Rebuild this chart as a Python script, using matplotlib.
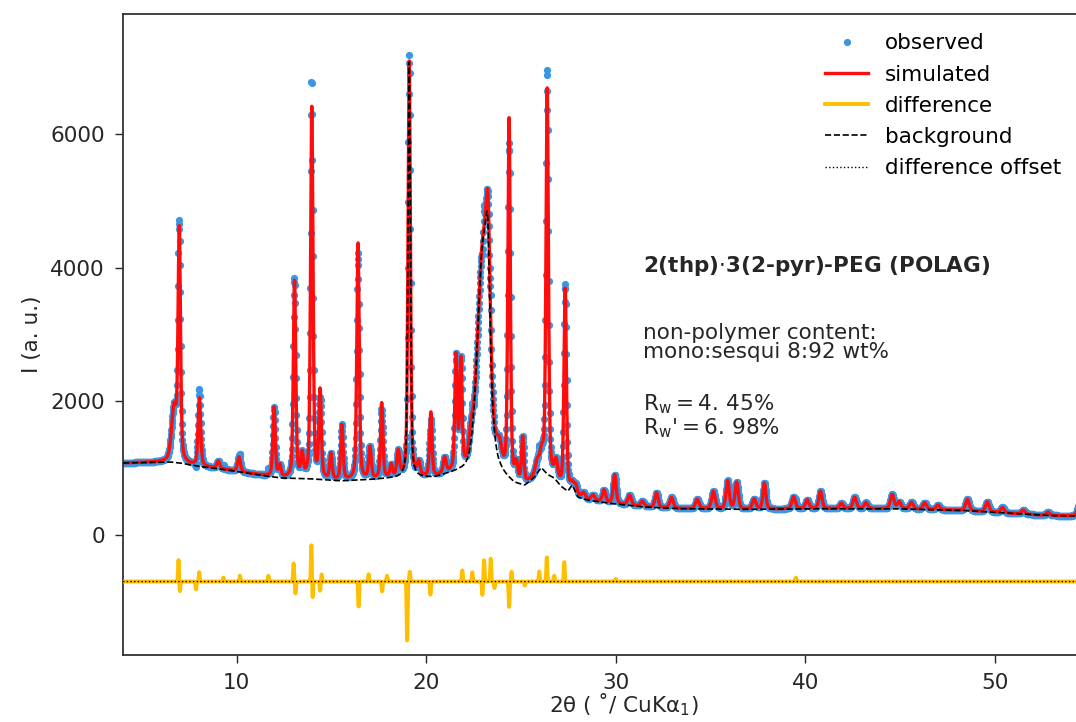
import numpy as np
import matplotlib
matplotlib.use('Agg')
import matplotlib.pyplot as plt

# background knots (2theta, counts)
bkg_x = [4.0, 5.0, 6.5, 7.0, 8.0, 9.3, 11.0, 12.3, 13.7, 15.5, 17.2, 18.1, 19.5, 20.4, 21.1, 21.7,
         22.5, 23.5, 23.9, 24.65, 25.2, 25.7, 26.06, 26.4, 26.75, 27.1, 27.47, 27.7, 28.0, 28.5,
         29.8, 31.5, 33.3, 36.8, 40.3, 44.8, 48.3, 52.7, 54.6]
bkg_y = [1075, 1080, 1090, 1075, 1025, 978, 903, 850, 839, 805, 825, 840, 845, 840, 880, 900,
         880, 870, 860, 730, 710, 839, 989, 889, 839, 719, 644, 739, 560, 514,
         464, 414, 390, 380, 390, 390, 365, 290, 280]

# PEG (polymer) reflections, part of the background
peg_pos = [19.10, 23.00, 23.25]
peg_height = [6250, 3400, 1500]
peg_fwhm = [0.15, 0.70, 0.25]

# crystalline reflections: position, height above background, fwhm
peak_pos = [6.70, 6.97, 8.03, 9.03, 10.12, 11.97, 12.27, 13.05, 13.45, 13.96, 14.40, 14.97,
            15.55, 16.40, 17.03, 17.65, 18.15, 18.52, 19.60, 20.24, 20.97, 21.57, 21.83, 22.35,
            23.30, 23.85, 24.37, 24.75, 25.09, 25.85, 26.10, 26.38, 26.85, 27.33, 27.90,
            28.30, 28.80, 29.38, 29.94, 30.73, 31.40, 32.15, 32.94, 34.30, 35.15, 35.90, 36.38,
            37.30, 37.84, 39.38, 40.10, 40.80, 41.90, 42.60, 43.20, 44.58, 44.95, 45.60, 46.30,
            47.00, 48.55, 49.60, 50.40, 51.50, 52.80, 54.45]
peak_height = [800, 3400, 1020, 110, 220, 1040, 170, 2950, 330, 5550, 1300, 380,
               820, 3550, 470, 1120, 180, 380, 200, 960, 230, 1700, 1600, 300,
               450, 300, 5350, 250, 680, 150, 200, 5750, 250, 3000, 100,
               80, 80, 180, 430, 150, 80, 220, 160, 140, 260, 420, 400,
               150, 390, 180, 130, 260, 80, 170, 90, 210, 100, 100, 100,
               70, 170, 150, 80, 60, 50, 180]
peak_fwhm = [0.32, 0.15, 0.16, 0.18, 0.18, 0.15, 0.15, 0.15, 0.15, 0.15, 0.15, 0.15,
             0.15, 0.15, 0.16, 0.15, 0.15, 0.17, 0.18, 0.15, 0.18, 0.15, 0.15, 0.22,
             0.25, 0.30, 0.15, 0.18, 0.15, 0.22, 0.22, 0.15, 0.18, 0.15, 0.22,
             0.22, 0.22, 0.20, 0.18, 0.22, 0.22, 0.20, 0.22, 0.22, 0.22, 0.20, 0.20,
             0.22, 0.18, 0.22, 0.22, 0.20, 0.22, 0.22, 0.22, 0.22, 0.22, 0.22, 0.22,
             0.22, 0.22, 0.22, 0.22, 0.22, 0.22, 0.22]

# residual (observed - simulated) features
resid_pos = [6.93, 7.00, 7.85, 8.02, 9.30, 10.17, 11.67, 13.00, 13.10, 13.94, 14.00, 14.40, 14.48,
             16.43, 16.96, 17.67, 17.93, 18.99, 19.13, 20.22, 21.90, 22.43, 22.96, 23.05, 23.40,
             23.60, 24.37, 24.50, 25.20, 25.96, 26.36, 26.75, 27.28, 30.00, 39.50]
resid_amp = [330, -150, -120, 140, 60, 90, 90, 270, -180, 580, -260, -140, 110,
             -380, 110, -150, 90, -900, 150, -200, 170, 140, -200, 320, 350,
             -100, -380, 150, -60, 150, 370, 90, 290, 40, 60]

diff_offset = -700
step = 0.015


def pvoigt(x, c, h, w, eta=0.4):
    u = (x - c) / w
    return h * (eta / (1 + 4 * u**2) + (1 - eta) * np.exp(-4 * np.log(2) * u**2))


tth = np.arange(4.0, 54.6, step)
background = np.interp(tth, bkg_x, bkg_y)
for c, h, w in zip(peg_pos, peg_height, peg_fwhm):
    background += pvoigt(tth, c, h, w)

simulated = background.copy()
for c, h, w in zip(peak_pos, peak_height, peak_fwhm):
    simulated += pvoigt(tth, c, h, w)

resid = np.zeros_like(tth)
for c, a in zip(resid_pos, resid_amp):
    resid += a * np.exp(-4 * np.log(2) * ((tth - c) / 0.06)**2)

observed = simulated + resid
difference = resid + diff_offset

plt.rcParams['font.family'] = 'DejaVu Sans'
plt.rcParams['mathtext.fontset'] = 'dejavusans'
txt = '#262626'
fs = 15.5

fig = plt.figure(figsize=(10.76, 7.22), dpi=100)
ax = fig.add_axes([123/1076, 1 - 655/722, 1 - 123/1076 + 0.003, (655 - 14)/722])

ax.plot(tth, observed, 'o', color='#3b97e3', ms=5.2, mew=0, label='observed', zorder=2)
ax.plot(tth, simulated, '-', color='#ff0d0d', lw=2.4, label='simulated', zorder=3)
ax.plot(tth, difference, '-', color='#ffbf00', lw=2.8, label='difference', zorder=3)
ax.plot(tth, background, '--', color='black', lw=1.2, label='background', zorder=4)
ax.plot(tth, np.full_like(tth, diff_offset), ':', color='black', lw=1, label='difference offset', zorder=4)

ax.set_xlim(4, 54.45)
ax.set_ylim(-1800, 7800)
ax.set_xticks([10, 20, 30, 40, 50])
ax.set_yticks([0, 2000, 4000, 6000])
ax.tick_params(direction='out', length=6, width=1, labelsize=fs, colors=txt, pad=7)
for s in ax.spines.values():
    s.set_color('#333333')
    s.set_linewidth(1.3)

ax.set_xlabel('2θ ( ˚/ CuKα$_1$)', fontsize=fs, color=txt)
ax.xaxis.set_label_coords(0.524, -0.057)
ax.set_ylabel('I (a. u.)', fontsize=fs, color=txt, labelpad=6)

ax.legend(loc='upper right', frameon=False, fontsize=fs, handlelength=2.0,
          borderaxespad=0.2, labelspacing=0.52, handletextpad=0.8, bbox_to_anchor=(0.995, 0.99))

ax.text(31.45, 4020, r'2(thp)$\cdot$3(2-pyr)-PEG (POLAG)', fontsize=fs, fontweight='bold',
        color=txt, va='center')
ax.text(31.45, 2875, 'non-polymer content:\nmono:sesqui 8:92 wt%', fontsize=fs,
        color=txt, va='center', linespacing=0.95)
ax.text(31.45, 1780, "$\\mathrm{R_w = 4.\\,45\\%}$\n$\\mathrm{R_w}$'$\\mathrm{= 6.\\,98\\%}$",
        fontsize=fs, color=txt, va='center', linespacing=1.0)

fig.savefig('out.png', dpi=100)
